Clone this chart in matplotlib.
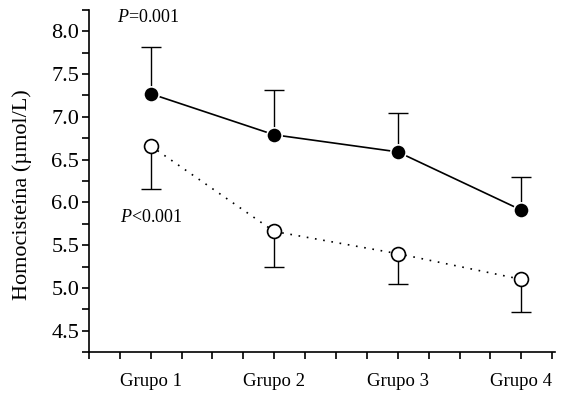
import matplotlib.pyplot as plt
from matplotlib.ticker import MultipleLocator, FixedLocator

grupos = ["Grupo 1", "Grupo 2", "Grupo 3", "Grupo 4"]
pos = [1, 2, 3, 4]
# serie con circulos rellenos (error hacia arriba)
media_llena = [7.27, 6.79, 6.59, 5.91]
err_llena = [0.55, 0.52, 0.45, 0.39]
# serie con circulos vacios (error hacia abajo)
media_vacia = [6.66, 5.66, 5.40, 5.10]
err_vacia = [0.50, 0.41, 0.35, 0.38]

plt.rcParams['font.family'] = ['Liberation Serif', 'DejaVu Serif']
plt.rcParams['mathtext.fontset'] = 'custom'
plt.rcParams['mathtext.rm'] = 'Liberation Serif'
plt.rcParams['mathtext.it'] = 'Liberation Serif:italic'

fig = plt.figure(figsize=(5.66, 3.96), dpi=100)
ax = fig.add_axes([0.157, 0.111, 0.823, 0.864])

# barras de error de un solo lado
sup = [m + e for m, e in zip(media_llena, err_llena)]
inf = [m - e for m, e in zip(media_vacia, err_vacia)]
ax.vlines(pos, media_llena, sup, color='black', lw=1, zorder=2)
ax.plot(pos, sup, '_', color='black', ms=15, mew=1, zorder=2)
ax.vlines(pos, inf, media_vacia, color='black', lw=1, zorder=2)
ax.plot(pos, inf, '_', color='black', ms=15, mew=1, zorder=2)

ax.plot(pos, media_llena, '-', color='black', lw=1.2, zorder=3)
ax.plot(pos, media_llena, 'o', color='black', ms=11, mec='white', mew=1.2, zorder=4)
ax.plot(pos, media_vacia, linestyle=(0, (1, 4)), color='black', lw=1.2, zorder=3)
ax.plot(pos, media_vacia, 'o', mfc='white', mec='black', ms=10, mew=1.2, zorder=4)

ax.set_xlim(0.5, 4.27)
ax.set_ylim(4.25, 8.25)
ax.xaxis.set_major_locator(FixedLocator(pos))
ax.xaxis.set_minor_locator(MultipleLocator(0.25))
ax.set_xticklabels(grupos, fontsize=13.5)
ax.yaxis.set_major_locator(MultipleLocator(0.5))
ax.yaxis.set_minor_locator(MultipleLocator(0.25))
ax.yaxis.set_major_formatter(plt.FormatStrFormatter('%.1f'))
ax.tick_params(axis='y', which='major', labelsize=16, length=5, width=1.2, pad=2)
ax.tick_params(axis='y', which='minor', length=5, width=1.2)
ax.tick_params(axis='x', which='both', length=5, width=1.2, pad=10)
ax.set_ylabel("Homocisteína (µmol/L)", fontsize=16)
ax.yaxis.set_label_coords(-0.122, 0.46)

for s in ['top', 'right']:
    ax.spines[s].set_visible(False)
for s in ['left', 'bottom']:
    ax.spines[s].set_linewidth(1.2)

ax.text(0.73, 8.16, r"$\it{P}$=0.001", fontsize=13, va='center')
ax.text(0.75, 5.82, r"$\it{P}$<0.001", fontsize=13, va='center')

fig.savefig("out.png", dpi=100)
